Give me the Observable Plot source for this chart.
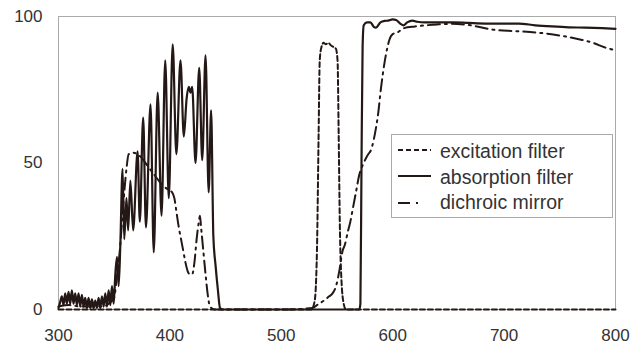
<!DOCTYPE html>
<html><head><meta charset="utf-8">
<script src="https://cdn.jsdelivr.net/npm/d3@7"></script>
<script src="https://cdn.jsdelivr.net/npm/@observablehq/plot@0.6"></script>
<style>html,body{margin:0;padding:0;background:#fff}svg{display:block}</style>
</head><body><div id="chart"></div>
<script>
const seriesNames = ["excitation filter", "absorption filter", "dichroic mirror"];
const xTicks = [300, 400, 500, 600, 700, 800];
const yTicks = [0, 50, 100];

const excitationNm  = [300, 400, 500, 527, 530, 532, 533.5, 534.5, 536, 538, 540, 542, 545, 549, 550.5, 551.5, 552.5, 554, 556, 558, 600, 700, 800];
const excitationPct = [0,   0,   0,   0,   3,   20,  60,    85,    89.5, 91, 90.5, 91, 90,  89,  85,    60,    30,    10,  2,   0,   0,   0,   0];

const absorptionNm = [300, 301.5, 303, 304.5, 306, 307.5, 309, 310.5, 312, 313.5, 315, 316.5, 318, 319.5, 321, 322.5, 324, 325.5, 327, 328.5, 330, 331.5, 333, 334.5, 336, 337.5, 339, 340.5, 342, 343.5, 345, 346.5, 348, 349.5, 351, 352.5, 354, 355.5, 357.5, 359, 361, 362.5, 364.5, 367, 371, 373, 376, 378.5, 382.6, 385.5, 389, 392.5, 395.8, 399, 402.5, 405.8, 409.5, 412.5, 415, 417, 418.5, 420, 423, 426.3, 429, 432, 434.8, 437, 439, 441, 443, 445, 447, 500, 560, 570, 571, 572, 573, 574, 577, 580, 583, 585, 589, 593, 596, 600, 603, 607, 609.7, 613, 617.8, 622, 629, 640, 654, 668, 683, 698, 713, 728, 743, 758, 773, 788, 800];
const absorptionPct = [0.5, 2.5, 4.5, 1.5, 5.5, 2, 6, 2, 6.5, 2, 5.5, 1.5, 5.5, 1, 5, 1, 4, 0.5, 4, 0.5, 3.5, 0.5, 3, 0.5, 4, 0.5, 4.5, 1, 5.5, 1, 6.5, 1.5, 8, 2, 12, 18, 8, 22, 48, 24, 38, 27, 44, 27, 54, 30, 65.5, 28, 70, 19.5, 74, 32, 85, 38, 90.5, 53, 85, 59, 72, 76, 74, 76, 50, 82.5, 51, 86.7, 40, 68, 25, 15, 7, 0.5, 0, 0, 0, 0, 2, 50, 90, 97, 98, 98, 96.5, 96.2, 98, 98.5, 98.6, 99, 98.8, 97.5, 97, 98, 98.6, 98.2, 98, 98, 98, 97.8, 97.6, 97.6, 97.6, 97, 96.6, 96.3, 96.2, 96, 95.8];

const dichroicNm  = [300, 310, 320, 330, 340, 345, 350, 352, 355, 358, 361, 363, 367, 371, 374, 380, 386, 392, 398, 402, 404, 406, 408, 410, 412, 414, 416, 418, 420, 422, 424, 426, 427, 428, 430, 432, 434, 436, 440, 500, 528, 532, 538, 543, 546, 549.5, 552, 555, 557, 560, 562, 564, 567, 570, 574, 578, 580, 583, 585, 587, 589, 591, 593, 595, 597, 600, 604, 610, 620, 630, 640, 652, 670, 690, 710, 730, 750, 770, 780, 790, 800];
const dichroicPct = [1, 1.5, 1, 1, 1, 2, 4, 10, 20, 35, 48, 53, 53.5, 53, 52, 49, 46, 43, 41, 40, 38, 33, 28, 24, 20, 16, 13, 12, 12, 16, 24, 30, 32, 28, 20, 12, 5, 1, 0, 0, 0.5, 1.5, 3, 4.5, 5.5, 8.5, 13, 20, 22, 27, 30, 34, 40, 46, 50, 53, 54, 58, 62, 67, 74, 80, 85, 89, 92, 94, 94.5, 96, 96.6, 97, 97.3, 97.5, 97, 95.5, 95, 94.5, 93.5, 92, 91, 89.5, 88.5];

const ink = "#231815";
const rows = (nm, pct, s) => nm.map((d, i) => ({series: s, nm: d, pct: pct[i]}));
const exc = rows(excitationNm, excitationPct, seriesNames[0]);
const abs = rows(absorptionNm, absorptionPct, seriesNames[1]);
const dic = rows(dichroicNm, dichroicPct, seriesNames[2]);

const font = "'Liberation Sans', Arial, Helvetica, sans-serif";
const styles = [
  {dash: "5,3", width: 2},
  {dash: null, width: 2.2},
  {dash: "12,5,2,5", width: 2}
];

const svg = Plot.plot({
  width: 643, height: 347,
  marginLeft: 58, marginRight: 28, marginTop: 16, marginBottom: 38,
  style: {fontFamily: font, fontSize: "17px", color: "#333", background: "#fff"},
  x: {domain: [300, 800], axis: null},
  y: {domain: [0, 100], axis: null},
  marks: [
    Plot.frame({stroke: "#aaa", strokeWidth: 1}),
    Plot.axisX(xTicks, {tickSize: 0, tickPadding: 19, fontSize: 17, label: null, fill: "#333"}),
    Plot.axisY(yTicks, {tickSize: 0, tickPadding: 16, fontSize: 17, label: null, fill: "#333"}),
    Plot.line(dic, {x: "nm", y: "pct", stroke: ink, strokeWidth: styles[2].width, strokeDasharray: styles[2].dash, curve: "monotone-x"}),
    Plot.line(abs, {x: "nm", y: "pct", stroke: ink, strokeWidth: styles[1].width, curve: "monotone-x"}),
    Plot.line(exc, {x: "nm", y: "pct", stroke: ink, strokeWidth: styles[0].width, strokeDasharray: styles[0].dash, curve: "monotone-x"})
  ]
});

// legend inside plot area
const g = d3.select(svg).append("g").attr("text-anchor", "start");
g.append("rect").attr("x", 391.5).attr("y", 134.5).attr("width", 221).attr("height", 83)
  .attr("fill", "#fff").attr("stroke", "#aaa");
const lineY = [150, 176, 203];
const textY = [158, 183.5, 209];
seriesNames.forEach((name, i) => {
  const l = g.append("line").attr("x1", 398).attr("x2", 431).attr("y1", lineY[i]).attr("y2", lineY[i])
    .attr("stroke", ink).attr("stroke-width", 2.2);
  if (styles[i].dash) l.attr("stroke-dasharray", i === 2 ? "12,6,2,20" : "5,3");
  g.append("text").attr("x", 440).attr("y", textY[i]).text(name)
    .attr("text-anchor", "start")
    .attr("font-family", font).attr("font-size", 19.5).attr("fill", "#333");
});
document.getElementById("chart").appendChild(svg);
</script>
</body></html>
